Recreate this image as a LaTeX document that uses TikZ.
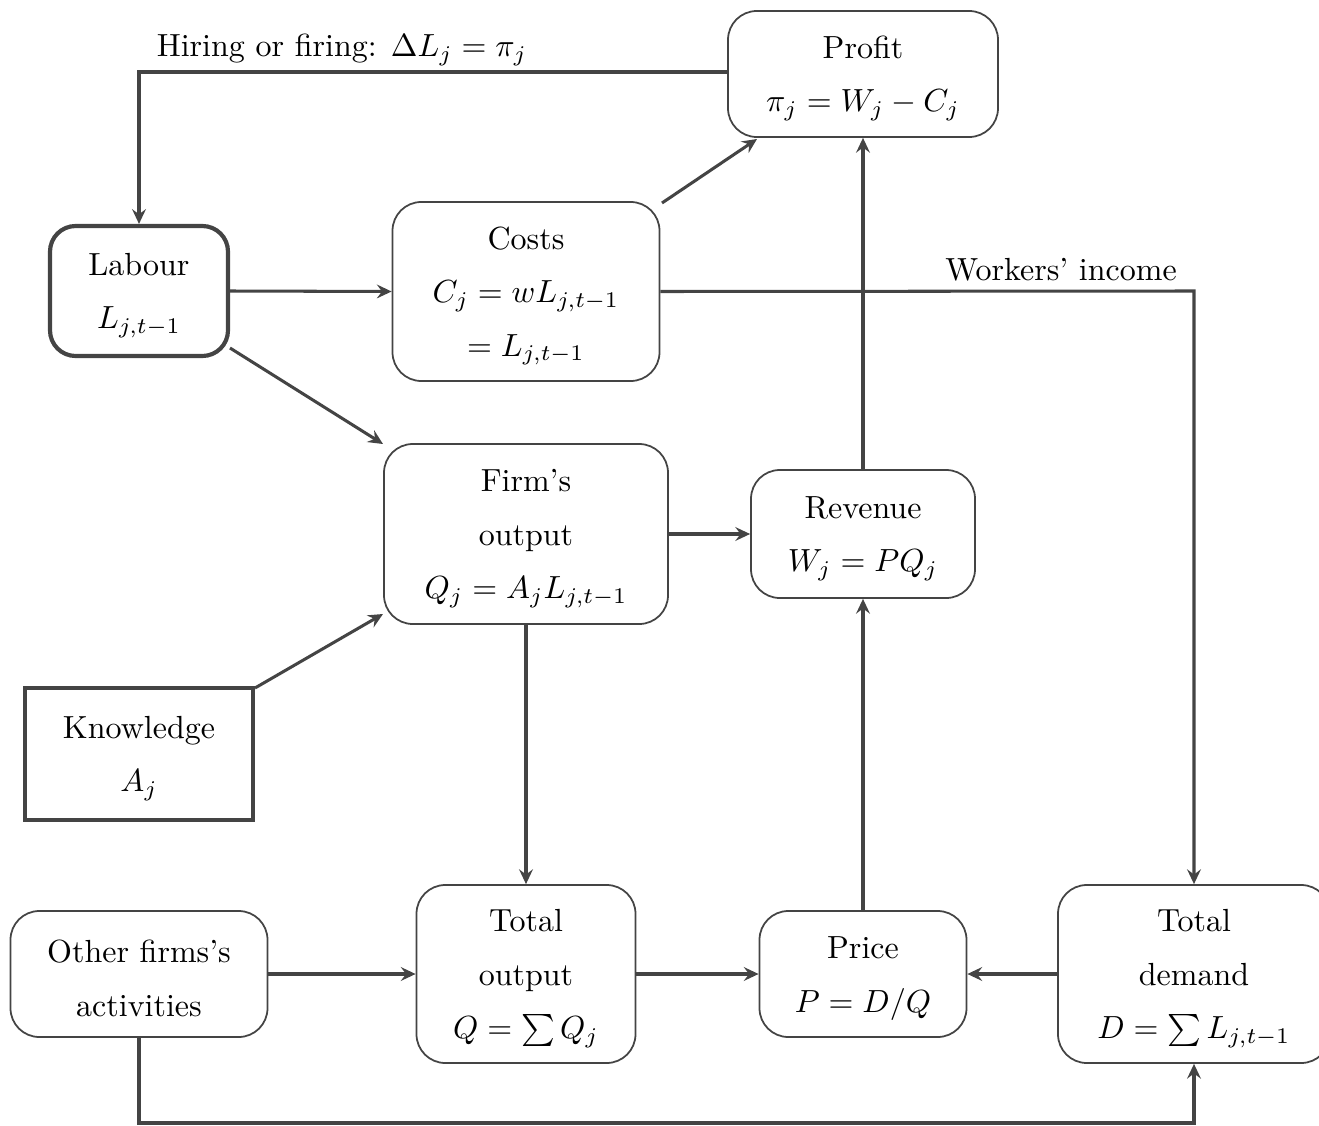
\documentclass[tikz,border=0pt]{standalone}
\usetikzlibrary{arrows.meta}
\definecolor{ln}{RGB}{68,68,68}
\begin{document}
\begin{tikzpicture}[x=0.3125pt,y=-0.3125pt,
  box/.style 2 args={draw=ln,line width=0.55pt,rounded corners=9pt,
    minimum width=#1*0.3125pt,minimum height=#2*0.3125pt,inner sep=0pt},
  txt/.style={align=center,inner sep=0pt,yshift=-1.4pt,
    font={\fontsize{10}{16.7}\selectfont}},
  thickbox/.style={line width=1.3pt},
  conn/.style={draw=ln,line width=0.95pt,-{Stealth[length=4.6pt,width=4.3pt,inset=1.6pt]}},
  lbl/.style={font={\fontsize{10}{12}\selectfont},inner sep=0pt}]
\useasboundingbox (0,0) rectangle (1319,1126);

\node[box={270}{126}] (profit) at (863,74) {};
\node[txt] (profit-t) at (profit.center) {Profit\\$\pi_j = W_j - C_j$};
\node[box={178}{130},thickbox,rounded corners=8pt] (labour) at (139,291) {};
\node[txt] (labour-t) at (labour.center) {Labour\\$L_{j,t-1}$};
\node[box={267}{179}] (costs) at (526,291.5) {};
\node[txt] (costs-t) at (costs.center) {Costs\\$C_j = wL_{j,t-1}$\\$= L_{j,t-1}$};
\node[box={284}{180}] (firm) at (526,534) {};
\node[txt] (firm-t) at (firm.center) {Firm's\\output\\$Q_j = A_jL_{j,t-1}$};
\node[box={224}{128}] (rev) at (863,534) {};
\node[txt] (rev-t) at (rev.center) {Revenue\\$W_j = PQ_j$};
\node[box={228}{132},thickbox,rounded corners=0pt] (know) at (139,754) {};
\node[txt] (know-t) at (know.center) {Knowledge\\$A_j$};
\node[box={257}{126}] (other) at (139,974) {};
\node[txt] (other-t) at (other.center) {Other firms's\\activities};
\node[box={219}{178}] (tout) at (526,974) {};
\node[txt] (tout-t) at (tout.center) {Total\\output\\$Q = \sum Q_j$};
\node[box={207}{126}] (price) at (863,974) {};
\node[txt] (price-t) at (price.center) {Price\\$P = D/Q$};
\node[box={272}{178}] (tdem) at (1194,974) {};
\node[txt] (tdem-t) at (tdem.center) {Total\\demand\\$D = \sum L_{j,t-1}$};

\coordinate (h1) at (139,72);
\coordinate (w1) at (1194,291);
\coordinate (b1) at (139,1123);
\coordinate (b2) at (1194,1123);

\draw[conn] (profit.west |- h1) -- (h1) -- (labour.north);
\node[lbl,anchor=base] (hire) at (342,57) {Hiring or firing: $\Delta L_j = \pi_j$};

\draw[conn] (labour.east) -- (costs.west);
\draw[conn] (230,348) -- (383,444);
\draw[conn] (662,203) -- (757,139);
\draw[conn] (costs.east) -- (w1) -- (tdem.north);
\node[lbl,anchor=base] (winc) at (1061,280) {Workers' income};

\draw[conn] (rev.north) -- (profit.south);
\draw[conn] (firm.east) -- (rev.west);
\draw[conn] (255,688) -- (383,614);
\draw[conn] (firm.south) -- (tout.north);
\draw[conn] (other.east) -- (tout.west);
\draw[conn] (tout.east) -- (price.west);
\draw[conn] (price.north) -- (rev.south);
\draw[conn] (tdem.west) -- (price.east);
\draw[conn] (other.south) -- (b1) -- (b2) -- (tdem.south);
\end{tikzpicture}
\end{document}
